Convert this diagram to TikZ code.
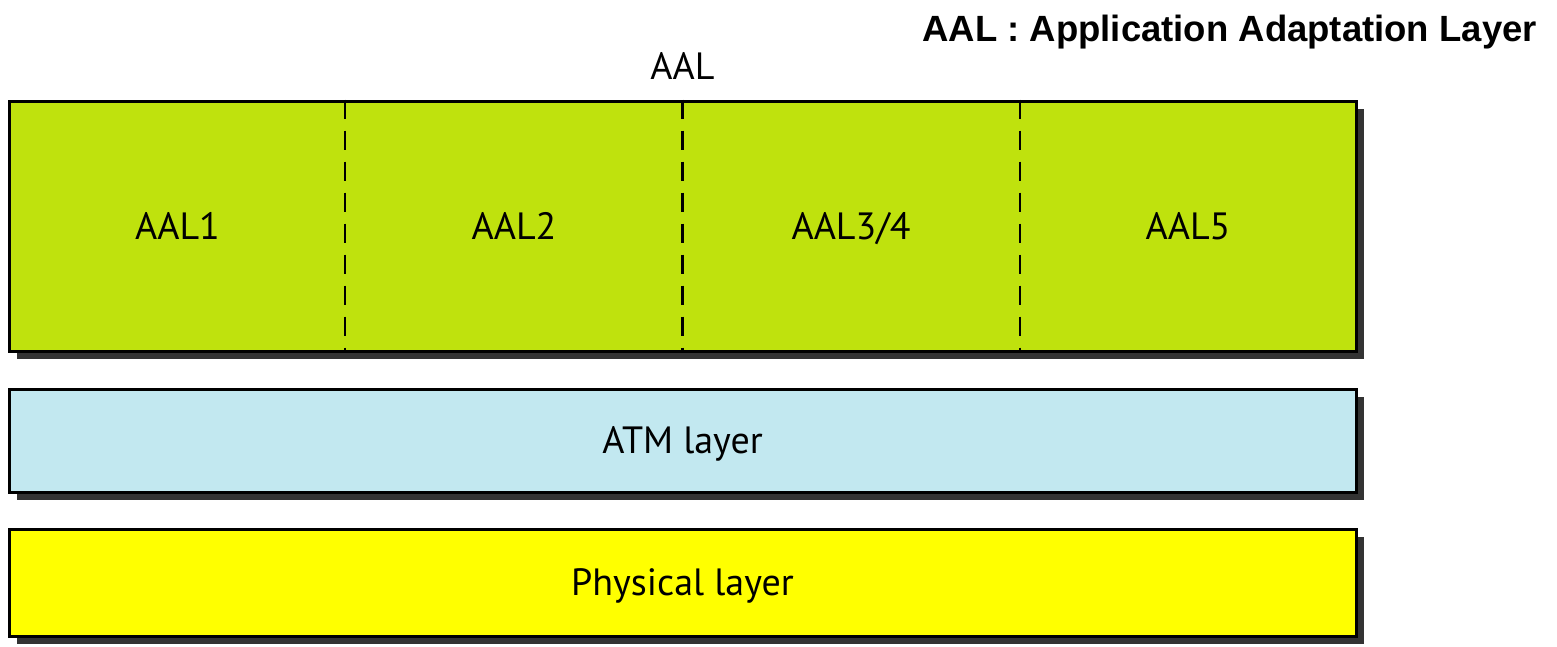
\documentclass[tikz,border=0pt]{standalone}
\usepackage{fontspec}
\setmainfont{PT Sans}
\newfontfamily\titlefont{Liberation Sans}
\usetikzlibrary{shadows,calc}
\definecolor{aalgreen}{RGB}{191,226,13}
\definecolor{atmblue}{RGB}{194,232,240}
\definecolor{phyyellow}{RGB}{255,255,0}
\definecolor{shadowgray}{RGB}{51,51,51}
\tikzset{
  layerbox/.style={draw=black, line width=3pt, inner sep=0pt, minimum width=1347pt,
    drop shadow={shadow xshift=8pt, shadow yshift=-8pt, fill=shadowgray, opacity=1}},
  lbl/.style={font=\fontsize{38}{40}\selectfont, inner sep=0pt, anchor=base},
  divider/.style={line width=2.2pt, dash pattern=on 19pt off 12pt}
}
\begin{document}
\begin{tikzpicture}[x=1pt,y=-1pt]
\useasboundingbox (0,0) rectangle (1557,646);
\node[layerbox, fill=aalgreen, minimum height=250pt] (aal) at (682.5,226) {};
\node[layerbox, fill=atmblue, minimum height=103pt] (atm) at (682.5,440.5) {};
\node[layerbox, fill=phyyellow, minimum height=107pt] (phy) at (682.5,582.5) {};
\foreach \f/\n in {0.25/d1,0.5/d2,0.75/d3}{
  \coordinate (\n t) at ($(aal.north west)!\f!(aal.north east)$);
  \coordinate (\n b) at ($(aal.south west)!\f!(aal.south east)$);
  \draw[divider] (\n t) -- (\n b);
}
\node[lbl] (l1) at (177.5,239) {AAL1};
\node[lbl] (l2) at (514,239) {AAL2};
\node[lbl] (l3) at (851,239) {AAL3/4};
\node[lbl] (l4) at (1188,239) {AAL5};
\node[lbl] (top) at (682.5,79) {AAL};
\node[lbl] (atml) at (682.5,453) {ATM layer};
\node[lbl] (phyl) at (682.5,595) {Physical layer};
\node[font=\titlefont\bfseries\fontsize{36.5}{38}\selectfont, inner sep=0pt, anchor=base east] (title) at (1537,41) {AAL : Application Adaptation Layer};
\end{tikzpicture}
\end{document}
